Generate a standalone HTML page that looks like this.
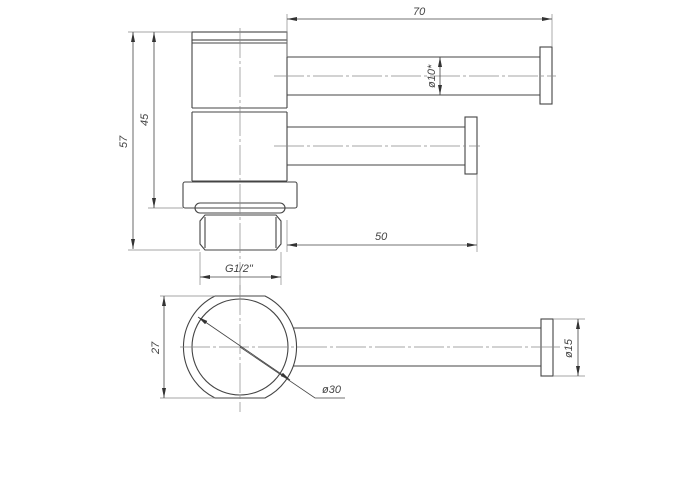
<!DOCTYPE html>
<html><head><style>body{margin:0;background:#fff}svg{display:block}text{font-family:"Liberation Sans",sans-serif;font-style:italic;font-size:11px;fill:#444}</style></head>
<body>
<svg width="700" height="500" viewBox="0 0 700 500" xmlns="http://www.w3.org/2000/svg">
<defs><marker id="a" markerWidth="10" markerHeight="6" refX="10" refY="3" orient="auto-start-reverse" markerUnits="userSpaceOnUse"><path d="M0,1 L10,3 L0,5z" fill="#333"/></marker></defs>
<g fill="none" stroke="#444" stroke-width="1.1">
<rect x="192" y="32" width="95" height="8"/>
<path d="M192,40 V108 M287,40 V108 M192,43 H287 M192,108 H287 M192,112 H287 M192,112 V181 M287,112 V181 M192,181 H287"/>
<rect x="183" y="182" width="114" height="26" rx="2"/>
<rect x="195" y="203" width="90" height="10" rx="5"/>
<path d="M205,215 H276 L281,221 V244 L276,250 H205 L200,244 V221 Z M205,217 V248 M276,217 V248"/>
<path d="M287,57 H540 M287,95 H540"/>
<rect x="540" y="47" width="12" height="57"/>
<path d="M287,127 H465 M287,165 H465"/>
<rect x="465" y="117" width="12" height="57"/>
<path d="M215,296 H265 A57,57 0 0 1 265,398 H215 A57,57 0 0 1 215,296 Z"/>
<circle cx="240" cy="347" r="48"/>
<path d="M293,328 H541 M293,366 H541"/>
<rect x="541" y="319" width="12" height="57"/>
</g>
<g fill="none" stroke="#888" stroke-width="0.7">
<path d="M240,28 V290" stroke-dasharray="30,3,3,3"/>
<path d="M274,76 H556 M274,146 H480 M180,347 H560 M240,285 V412" stroke-dasharray="30,3,3,3"/>
<path d="M287,14 V57 M552,14 V47 M128,32 H192 M148,208 H183 M128,250 H200 M287,220 V252 M477,174 V252 M200,252 V285 M281,252 V285 M160,296 H215 M160,398 H215 M553,319 H585 M553,376 H585"/>
</g>
<g stroke="#444" stroke-width="0.8" fill="none" marker-start="url(#a)" marker-end="url(#a)">
<line x1="287" y1="19" x2="552" y2="19"/>
<line x1="133" y1="32" x2="133" y2="249"/>
<line x1="154" y1="32" x2="154" y2="208"/>
<line x1="287" y1="245" x2="477" y2="245"/>
<line x1="200" y1="277" x2="281" y2="277"/>
<line x1="440" y1="57" x2="440" y2="95"/>
<line x1="164" y1="296" x2="164" y2="398"/>
<line x1="578" y1="319" x2="578" y2="376"/>
<line x1="198" y1="317" x2="290" y2="380"/>
</g>
<path d="M240,347 L315,398 H345" stroke="#444" stroke-width="0.8" fill="none"/>
<text x="413" y="15">70</text>
<text x="375" y="240">50</text>
<text x="225" y="272">G1/2"</text>
<text x="322" y="393">ø30</text>
<text transform="translate(127,148) rotate(-90)">57</text>
<text transform="translate(148,126) rotate(-90)">45</text>
<text transform="translate(159,354) rotate(-90)">27</text>
<text transform="translate(435,88) rotate(-90)">ø10*</text>
<text transform="translate(572,358) rotate(-90)">ø15</text>
</svg>
</body></html>
